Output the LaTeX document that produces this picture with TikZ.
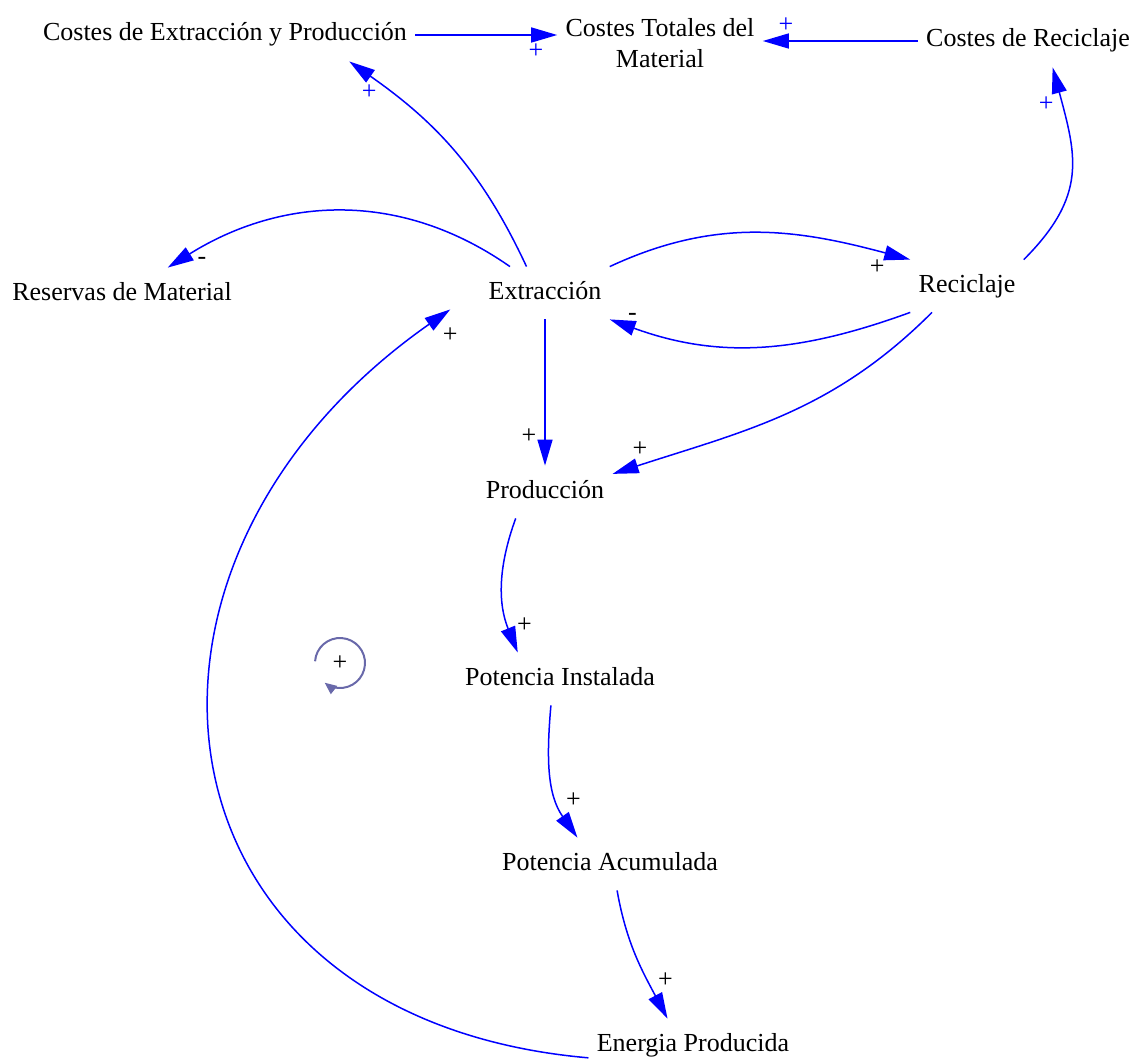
\documentclass[tikz,border=0pt]{standalone}
\usepackage{fontspec}
\setmainfont{Liberation Serif}
\usetikzlibrary{arrows.meta, positioning}

\definecolor{loopcol}{RGB}{105,105,170}

\begin{document}
\begin{tikzpicture}[x=0.5pt, y=0.5pt,
  every node/.style={font=\fontsize{13}{15.5}\selectfont},
  var/.style={inner xsep=4pt, inner ysep=7pt, text height=9pt, text depth=3pt},
  link/.style={draw=blue, line width=0.75pt, -{Triangle[length=13pt, width=7.5pt]}},
  sgn/.style={inner sep=1pt},
  bsgn/.style={inner sep=1pt, text=blue}]
  \useasboundingbox (0,0) rectangle (1139,-1059);
  % variables
  \node[var] (cep) at (225,-35) {Costes de Extracción y Producción};
  \node[inner xsep=4pt, inner ysep=7pt, align=center] (ctm) at (660,-43) {Costes Totales del\\Material};
  \node[var] (crc) at (1028,-41) {Costes de Reciclaje};
  \node[var] (res) at (122,-294) {Reservas de Material};
  \node[var] (ext) at (545,-293) {Extracción};
  \node[var] (rec) at (967,-286) {Reciclaje};
  \node[var] (prod) at (545,-492) {Producción};
  \node[var] (pi) at (560,-679) {Potencia Instalada};
  \node[var] (pa) at (610,-864) {Potencia Acumulada};
  \node[var] (ep) at (693,-1045) {Energia Producida};
  % loop marker
  \node[sgn] (loop) at (340,-663) {+};
  \draw[loopcol, line width=1pt, -{Triangle[length=6pt, width=5pt]}]
    ([shift={(176:25)}]loop.center) arc[start angle=176, end angle=-128, radius=25];
  % costs
  \draw[link] (cep.east) -- (cep.east -| ctm.west) node[bsgn, pos=.85, below=3pt] (s1) {+};
  \draw[link] (crc.west) -- (crc.west -| ctm.east) node[bsgn, pos=.85, above=3pt] (s2) {+};
  \draw[link] (ext.125) to[out=115, in=-35] node[bsgn, pos=.92, below=3pt] (s3) {+} (cep.-12);
  \draw[link] (rec.north east) to[out=45, in=-75, looseness=1.2] node[bsgn, pos=.85, left=3pt] (s4) {+} (crc.-47);
  % extraction and recycling
  \draw[link] (ext.143) to[out=145, in=32] node[sgn, pos=.9, below=3pt] (s5) {-} (res.30);
  \draw[link] (ext.north east) to[out=25, in=165] node[sgn, pos=.9, below=3pt] (s6) {+} (rec.north west);
  \draw[link] (rec.south west) to[out=200, in=-20] node[sgn, pos=.93, above=2pt] (s7) {-} (ext.south east);
  \draw[link] (rec.-143) to[out=225, in=18] node[sgn, pos=.93, above=3pt] (s8) {+} (prod.15);
  \draw[link] (ext.south) -- (prod.north) node[sgn, pos=.8, left=3pt] (s9) {+};
  % production chain
  \draw[link] (prod.-138) to[out=-110, in=112] node[sgn, pos=.8, right=3pt] (s10) {+} (pi.148);
  \draw[link] (pi.-109) to[out=-95, in=125] node[sgn, pos=.7, right=3pt] (s11) {+} (pa.141);
  \draw[link] (pa.-75) to[out=-80, in=118] node[sgn, pos=.7, right=4pt] (s12) {+} (ep.134);
  % feedback
  \draw[link] (ep.-173) to[out=175, in=215, looseness=1.5]
    node[sgn, pos=1, below=8pt] (s13) {+} ([xshift=-15pt, yshift=5pt]ext.south west);
\end{tikzpicture}
\end{document}
